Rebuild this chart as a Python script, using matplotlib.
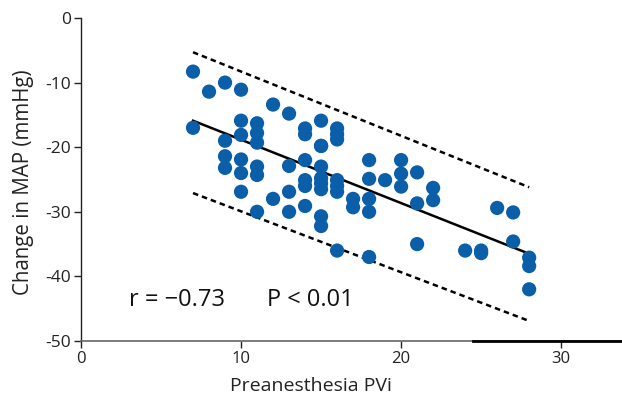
import numpy as np
import matplotlib
matplotlib.use("Agg")
import matplotlib.pyplot as plt

plt.rcParams["font.family"] = ["Open Sans", "DejaVu Sans"]

# scatter points (PVi, change in MAP)
pvi = [
    7, 7,
    8,
    9, 9, 9, 9,
    10, 10, 10, 10, 10, 10,
    11, 11, 11, 11, 11, 11,
    12, 12,
    13, 13, 13, 13,
    14, 14, 14, 14, 14, 14,
    15, 15, 15, 15, 15, 15, 15, 15, 15,
    16, 16, 16, 16, 16, 16, 16,
    17, 17,
    18, 18, 18, 18, 18,
    19,
    20, 20, 20,
    21, 21, 21,
    22, 22,
    24,
    25, 25,
    26,
    27, 27,
    28, 28, 28,
]
map_change = [
    -8.3, -17.0,
    -11.4,
    -10.0, -19.0, -21.4, -23.2,
    -11.1, -15.9, -18.1, -21.9, -24.0, -26.9,
    -16.3, -17.8, -19.3, -23.0, -24.3, -30.0,
    -13.4, -28.0,
    -14.8, -22.9, -26.9, -30.0,
    -17.1, -18.0, -22.0, -25.1, -26.0, -29.1,
    -15.9, -19.8, -23.0, -24.8, -25.6, -26.5, -30.7, -32.2, -19.8,
    -17.1, -18.0, -18.8, -25.1, -26.0, -26.9, -36.0,
    -28.0, -29.3,
    -22.0, -24.9, -28.0, -30.0, -37.0,
    -25.1,
    -22.0, -24.1, -26.1,
    -23.9, -28.7, -35.0,
    -26.3, -28.2,
    -36.0,
    -36.0, -36.4,
    -29.4,
    -30.1, -34.6,
    -37.1, -38.4, -42.0,
]
# regression line and prediction band, endpoints at PVi 7 and 28
fit_x = [7, 28]
fit_y = [-15.9, -36.5]
upper_y = [-5.3, -26.2]
lower_y = [-27.1, -46.9]

fig = plt.figure(figsize=(6.22, 3.99), dpi=100)
ax = fig.add_axes([0.1302, 0.1454, 0.8698, 0.8095])

ax.scatter(pvi, map_change, s=105, color="#0b5ea8", edgecolors="none", zorder=3)
ax.plot(fit_x, fit_y, color="black", lw=1.8, zorder=2)
ax.plot(fit_x, upper_y, color="black", lw=1.8, ls=(0, (2.2, 1.6)), zorder=2)
ax.plot(fit_x, lower_y, color="black", lw=1.8, ls=(0, (2.2, 1.6)), zorder=2)

ax.set_xlim(0, 33.8)
ax.set_ylim(-50, 0)
ax.set_xticks([0, 10, 20, 30])
ax.set_yticks([0, -10, -20, -30, -40, -50])
ax.set_yticklabels(["0", "-10", "-20", "-30", "-40", "-50"])

for side in ["top", "right"]:
    ax.spines[side].set_visible(False)
ax.spines["left"].set_color("#222222")
ax.spines["bottom"].set_color("#666666")
ax.spines["left"].set_linewidth(1.0)
ax.spines["bottom"].set_linewidth(1.2)
# darker segment on the right end of the x axis, as in the original
ax.plot([24.5, 33.8], [-50, -50], color="black", lw=2.0, clip_on=False, zorder=4)

ax.tick_params(axis="both", colors="#222222", length=5, width=1.0)
ax.tick_params(axis="x", labelsize=12, pad=2)
ax.tick_params(axis="y", labelsize=12.5, pad=2)

ax.set_xlabel("Preanesthesia PVi", fontsize=14, color="#222222")
ax.xaxis.set_label_coords(0.425, -0.113)
ax.set_ylabel("Change in MAP (mmHg)", fontsize=14.8, color="#222222")
ax.yaxis.set_label_coords(-0.086, 0.49)

ax.text(3.0, -43.7, "r = \u22120.73", fontsize=17, color="#111111",
        va="center", ha="left")
ax.text(11.6, -43.7, "P < 0.01", fontsize=17, color="#111111",
        va="center", ha="left")

fig.savefig("out.png", dpi=100)
